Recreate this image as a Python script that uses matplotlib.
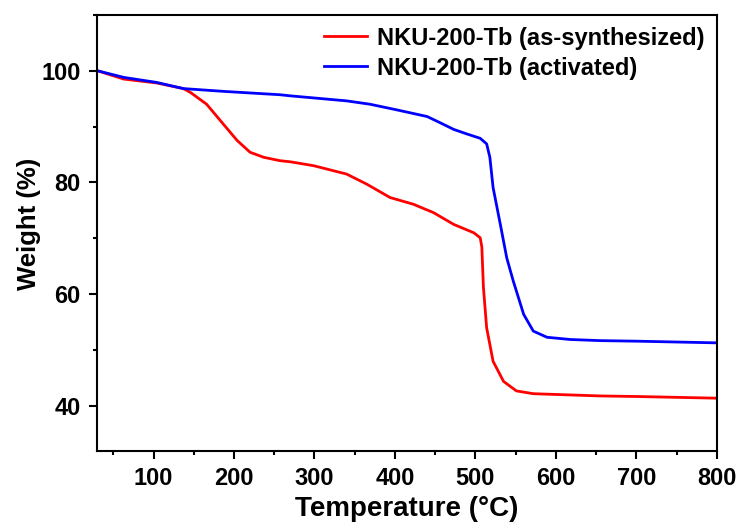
import numpy as np
import matplotlib
matplotlib.use('Agg')
import matplotlib.pyplot as plt
from matplotlib.ticker import MultipleLocator

plt.rcParams['font.family'] = ['Liberation Sans', 'DejaVu Sans']
plt.rcParams['font.weight'] = 'bold'

# as-synthesized
temp_as = [30, 63, 104, 137, 146, 166, 187, 204, 220, 237, 257, 270, 299, 340, 365, 394,
           423, 448, 473, 498, 506, 508, 510, 514, 522, 535, 551, 572, 655, 700, 800]
wt_as = [100, 98.5, 97.8, 96.8, 96.1, 94.0, 90.4, 87.5, 85.4, 84.5, 83.9, 83.7, 83.0, 81.5, 79.7, 77.3,
         76.1, 74.6, 72.5, 71.0, 70.1, 68.5, 61.2, 54.0, 48.0, 44.4, 42.7, 42.2, 41.8, 41.7, 41.4]

# activated
temp_act = [30, 63, 104, 137, 187, 257, 270, 340, 369, 402, 440, 456, 473, 489, 506, 514,
            518, 522, 531, 539, 547, 560, 572, 589, 618, 655, 700, 800]
wt_act = [100, 98.8, 97.9, 96.8, 96.3, 95.7, 95.5, 94.6, 94.0, 93.0, 91.8, 90.7, 89.5, 88.7, 87.9, 86.9,
          84.5, 79.1, 72.5, 66.5, 62.4, 56.4, 53.4, 52.3, 51.9, 51.7, 51.6, 51.3]

fig, ax = plt.subplots(figsize=(7.42, 5.29), dpi=100)
fig.subplots_adjust(left=0.131, right=0.966, bottom=0.148, top=0.972)

ax.plot(temp_as, wt_as, color='#ff0000', lw=2, label='NKU-200-Tb (as-synthesized)')
ax.plot(temp_act, wt_act, color='#0000ff', lw=2, label='NKU-200-Tb (activated)')

ax.set_xlim(30, 800)
ax.set_ylim(32, 110)
ax.xaxis.set_major_locator(MultipleLocator(100))
ax.xaxis.set_minor_locator(MultipleLocator(50))
ax.yaxis.set_major_locator(MultipleLocator(20))
ax.yaxis.set_minor_locator(MultipleLocator(10))
ax.tick_params(which='major', length=6, width=1.5, labelsize=17, pad=6)
ax.tick_params(which='minor', length=3, width=1.5)
for s in ax.spines.values():
    s.set_linewidth(1.5)

ax.set_xlabel('Temperature (°C)', fontsize=20, fontweight='bold', labelpad=4)
ax.set_ylabel('Weight (%)', fontsize=18.5, fontweight='bold')
ax.yaxis.set_label_coords(-0.09, 0.52)

ax.legend(loc='upper right', frameon=False, fontsize=17, handlelength=1.8,
          handletextpad=0.45, borderaxespad=0.1, labelspacing=0.3)

fig.savefig('out.png')
